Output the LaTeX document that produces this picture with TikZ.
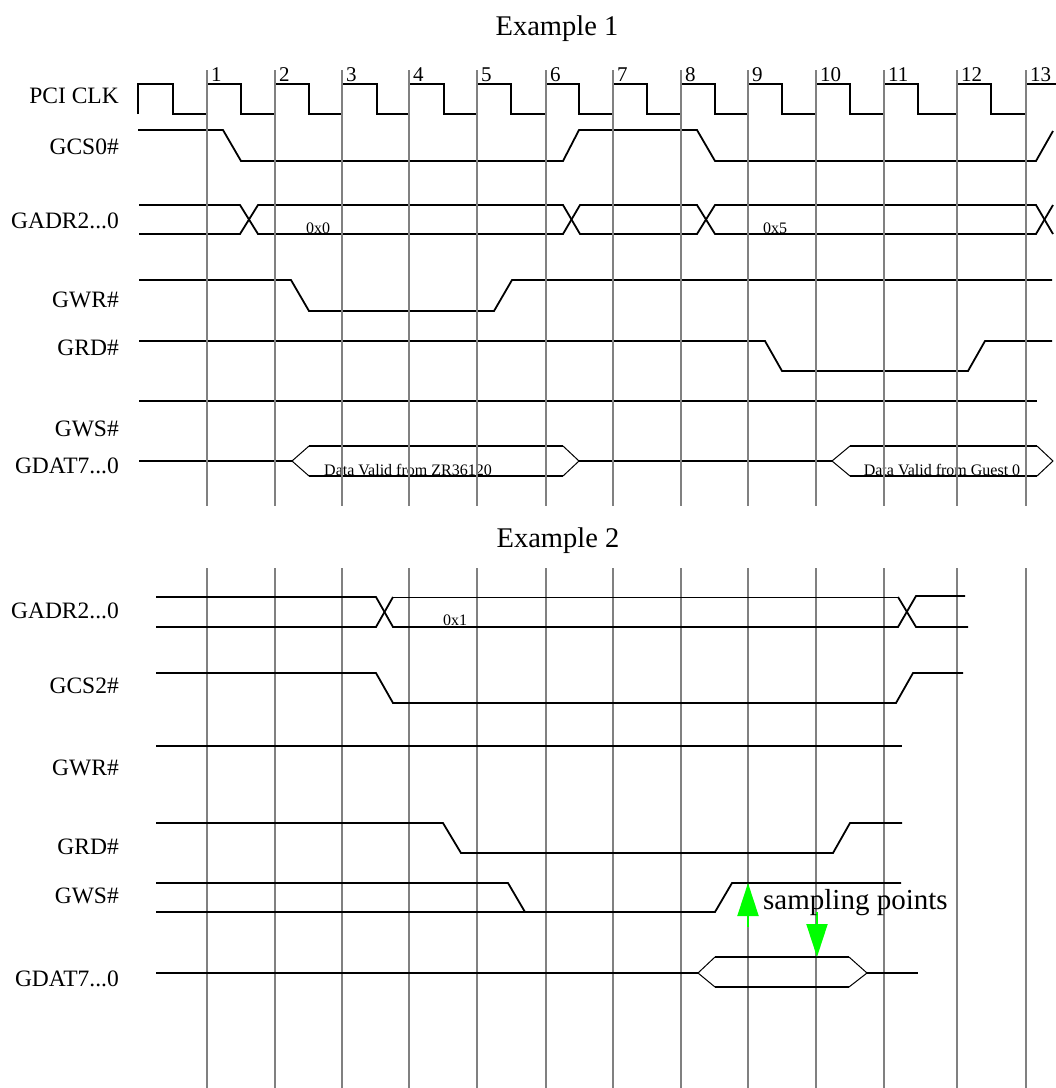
\documentclass[tikz,border=0pt]{standalone}
\usepackage{fontspec}
\setmainfont{Liberation Serif}
\usetikzlibrary{arrows.meta}

\begin{document}
\begin{tikzpicture}[x=1pt, y=-1pt,
  wave/.style={line width=1.8pt, line join=miter},
  thinwave/.style={line width=1pt},
  clkline/.style={line width=1.6pt, color=gray},
  siglabel/.style={anchor=east, inner sep=0pt, font=\fontsize{23.5}{26}\selectfont},
  cyclenum/.style={anchor=base west, inner sep=0pt, font=\fontsize{21}{24}\selectfont},
  buslabel/.style={anchor=base, inner sep=0pt, font=\fontsize{16}{18}\selectfont},
  title/.style={inner sep=0pt, font=\fontsize{28.5}{31}\selectfont},
  sample/.style={line width=2pt, color=green, -{Triangle[length=33pt, width=21pt]}}]

\useasboundingbox (0,0) rectangle (1056,1088);

% Example 1: titles and signal names

\node[title] (ex1) at (557,29) {Example 1};
\node[siglabel] (pciclk) at (119,96) {PCI CLK};
\node[siglabel] (gcs0) at (119,147) {GCS0\#};
\node[siglabel] (gadr1) at (119,221) {GADR2...0};
\node[siglabel] (gwr1) at (119,300) {GWR\#};
\node[siglabel] (grd1) at (119,348) {GRD\#};
\node[siglabel] (gws1) at (119,429) {GWS\#};
\node[siglabel] (gdat1) at (119,466) {GDAT7...0};

\draw[wave] (138,114) -- (138,84) -- (173,84) -- (173,114) -- (207,114) -- (207,84) -- (241,84) -- (241,114)
  -- (275,114) -- (275,84) -- (309,84) -- (309,114) -- (342,114) -- (342,84) -- (377,84) -- (377,114)
  -- (409,114) -- (409,84) -- (444,84) -- (444,114) -- (477,114) -- (477,84) -- (511,84) -- (511,114)
  -- (546,114) -- (546,84) -- (579,84) -- (579,114) -- (613,114) -- (613,84) -- (647,84) -- (647,114)
  -- (681,114) -- (681,84) -- (715,84) -- (715,114) -- (748,114) -- (748,84) -- (782,84) -- (782,114)
  -- (816,114) -- (816,84) -- (850,84) -- (850,114) -- (884,114) -- (884,84) -- (918,84) -- (918,114)
  -- (957,114) -- (957,84) -- (991,84) -- (991,114) -- (1026,114) -- (1026,84) -- (1056,84);

\draw[wave] (138,130) -- (223,130) -- (241,161) -- (563,161) -- (579,130) -- (697,130) -- (715,161) -- (1036,161) -- (1053,131);

\draw[wave] (139,205) -- (240,205) -- (258,234) -- (563,234) -- (580,205) -- (697,205) -- (715,234) -- (1036,234) -- (1053,205);
\draw[wave] (139,234) -- (240,234) -- (258,205) -- (563,205) -- (580,234) -- (697,234) -- (715,205) -- (1036,205) -- (1053,234);
\node[buslabel] (val0) at (318,233) {0x0};
\node[buslabel] (val5) at (775,233) {0x5};

\draw[wave] (139,280) -- (291,280) -- (309,311) -- (494,311) -- (512,280) -- (1052,280);
\draw[wave] (139,341) -- (765,341) -- (782,371) -- (968,371) -- (985,341) -- (1052,341);
\draw[wave] (139,401) -- (1037,401);

\draw[wave] (139,461) -- (292,461);
\draw[wave] (309,446) -- (563,446);
\draw[wave] (309,476) -- (563,476);
\draw[thinwave] (309,476) -- (292,461) -- (309,446);
\draw[thinwave] (563,446) -- (579,461) -- (563,476);
\draw[wave] (579,461) -- (832,461);
\draw[wave] (850,446) -- (1037,446);
\draw[wave] (850,476) -- (1037,476);
\draw[thinwave] (850,476) -- (832,461) -- (850,446);
\draw[thinwave] (1037,446) -- (1053,461) -- (1037,476);
\node[buslabel] (dzr) at (408,475) {Data Valid from ZR36120};
\node[buslabel] (dguest) at (942,475) {Data Valid from Guest 0};

% clock edges

\foreach \x/\n in {207/1, 275/2, 342/3, 409/4, 477/5, 546/6, 613/7, 681/8, 748/9, 816/10, 884/11, 957/12, 1026/13} {
  \draw[clkline] (\x,70) -- (\x,506);
  \draw[clkline] (\x,568) -- (\x,1088);
  \node[cyclenum] (c\n) at (\x+4,81) {\n};
}

% Example 2

\node[title] (ex2) at (558,541) {Example 2};
\node[siglabel] (gadr2) at (119,611) {GADR2...0};
\node[siglabel] (gcs2) at (119,686) {GCS2\#};
\node[siglabel] (gwr2) at (119,768) {GWR\#};
\node[siglabel] (grd2) at (119,847) {GRD\#};
\node[siglabel] (gws2) at (119,896) {GWS\#};
\node[siglabel] (gdat2) at (119,979) {GDAT7...0};

\draw[wave] (156,597) -- (376,597) -- (393,627) -- (898,627) -- (916,596) -- (965,596);
\draw[wave] (156,627) -- (376,627) -- (393,597);
\draw[thinwave] (393,597) -- (898,597);
\draw[wave] (898,597) -- (916,627) -- (968,627);
\node[buslabel] (val1) at (455,625) {0x1};

\draw[wave] (156,673) -- (376,673) -- (393,703) -- (896,703) -- (913,673) -- (963,673);
\draw[wave] (156,746) -- (902,746);
\draw[wave] (156,823) -- (443,823) -- (461,853) -- (833,853) -- (850,823) -- (902,823);

\draw[wave] (156,883) -- (508,883) -- (525,912);
\draw[wave] (156,912) -- (715,912) -- (732,883) -- (901,883);

\draw[wave] (156,973) -- (698,973);
\draw[wave] (715,957) -- (849,957);
\draw[wave] (715,987) -- (849,987);
\draw[thinwave] (715,987) -- (698,973) -- (715,957);
\draw[thinwave] (849,957) -- (867,973) -- (849,987);
\draw[wave] (867,973) -- (918,973);

\coordinate (up0) at (748,927);
\coordinate (up1) at (748,883);
\coordinate (dn0) at (817,912);
\coordinate (dn1) at (817,957);
\draw[sample] (up0) -- (up1);
\draw[sample] (dn0) -- (dn1);
\node[anchor=base west, inner sep=0pt, font=\fontsize{29}{31}\selectfont] (sampling) at (763,909) {sampling points};

\end{tikzpicture}
\end{document}
